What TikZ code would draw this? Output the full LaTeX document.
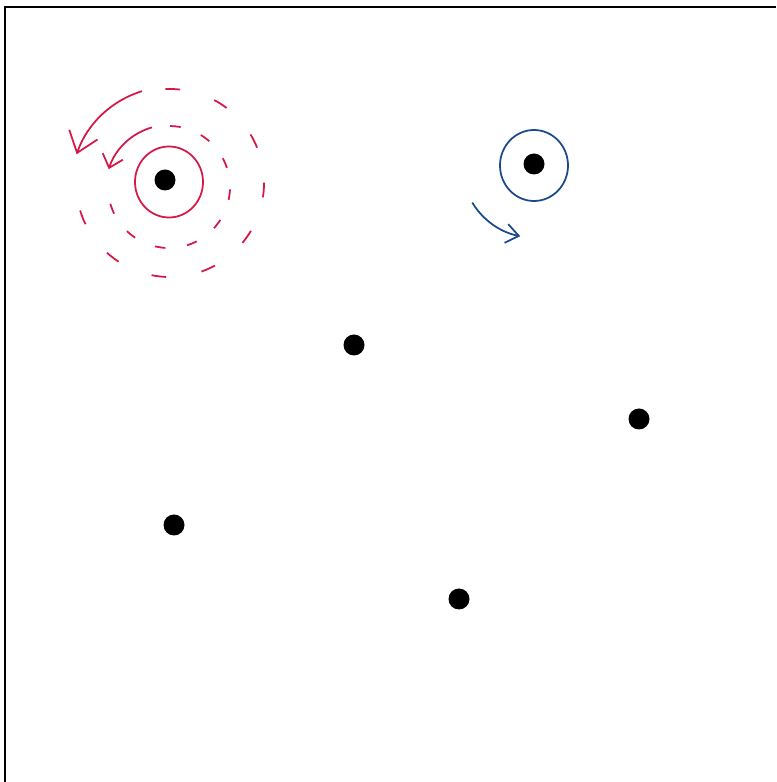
\documentclass[tikz,border=0pt]{standalone}
\usetikzlibrary{arrows.meta}
\definecolor{swirlred}{RGB}{214,24,72}
\definecolor{swirlblue}{RGB}{28,72,140}

\begin{document}
\begin{tikzpicture}[line width=0.5pt,
  dot/.style={fill=black},
  redline/.style={draw=swirlred,line width=0.5pt},
  blueline/.style={draw=swirlblue,line width=0.5pt}]
\useasboundingbox (0,0) rectangle (7.76,7.82);
% ---------- frame ----------
\draw[line width=0.8pt] (0.05,0) -- (0.05,7.75) -- (7.76,7.75);
% ---------- centres ----------
\coordinate (redc) at (1.69,6.00);
\coordinate (redin) at (1.69,5.95);
\coordinate (redout) at (1.70,5.99);
\coordinate (bluec) at (5.34,6.165);
% ---------- red vortex ----------
\draw[redline] (redc) ellipse[x radius=0.34,y radius=0.355];
% dashed rings, open where the arrows run
\draw[redline,dash pattern=on 3pt off 6.2pt] ([shift={(redin)}]-164:0.61)
  arc[start angle=-164,end angle=94,radius=0.61];
\draw[redline,dash pattern=on 4.2pt off 10.2pt] ([shift={(redout)}]-163:0.94)
  arc[start angle=-163,end angle=93,radius=0.94];
% anticlockwise arrows
\draw[redline,-{Straight Barb[length=3.4pt,width=6pt]}] ([shift={(redin)}]106:0.62)
  arc[start angle=106,end angle=162,radius=0.64];
\draw[redline,-{Straight Barb[length=5.5pt,width=8.5pt]}] ([shift={(redout)}]107:0.96)
  arc[start angle=107,end angle=161,radius=1.0];
% ---------- blue vortex ----------
\draw[blueline] (bluec) ellipse[x radius=0.34,y radius=0.355];
\draw[blueline,-{Straight Barb[length=3.6pt,width=5.4pt]}] ([shift={(bluec)}]211:0.72)
  arc[start angle=211,end angle=259,radius=0.72];
% ---------- points ----------
\fill[dot] (1.65,6.02) circle (0.105);
\fill[dot] (5.34,6.18) circle (0.105);
\fill[dot] (3.54,4.37) circle (0.105);
\fill[dot] (6.39,3.63) circle (0.105);
\fill[dot] (1.74,2.57) circle (0.105);
\fill[dot] (4.59,1.83) circle (0.105);
\end{tikzpicture}
\end{document}
